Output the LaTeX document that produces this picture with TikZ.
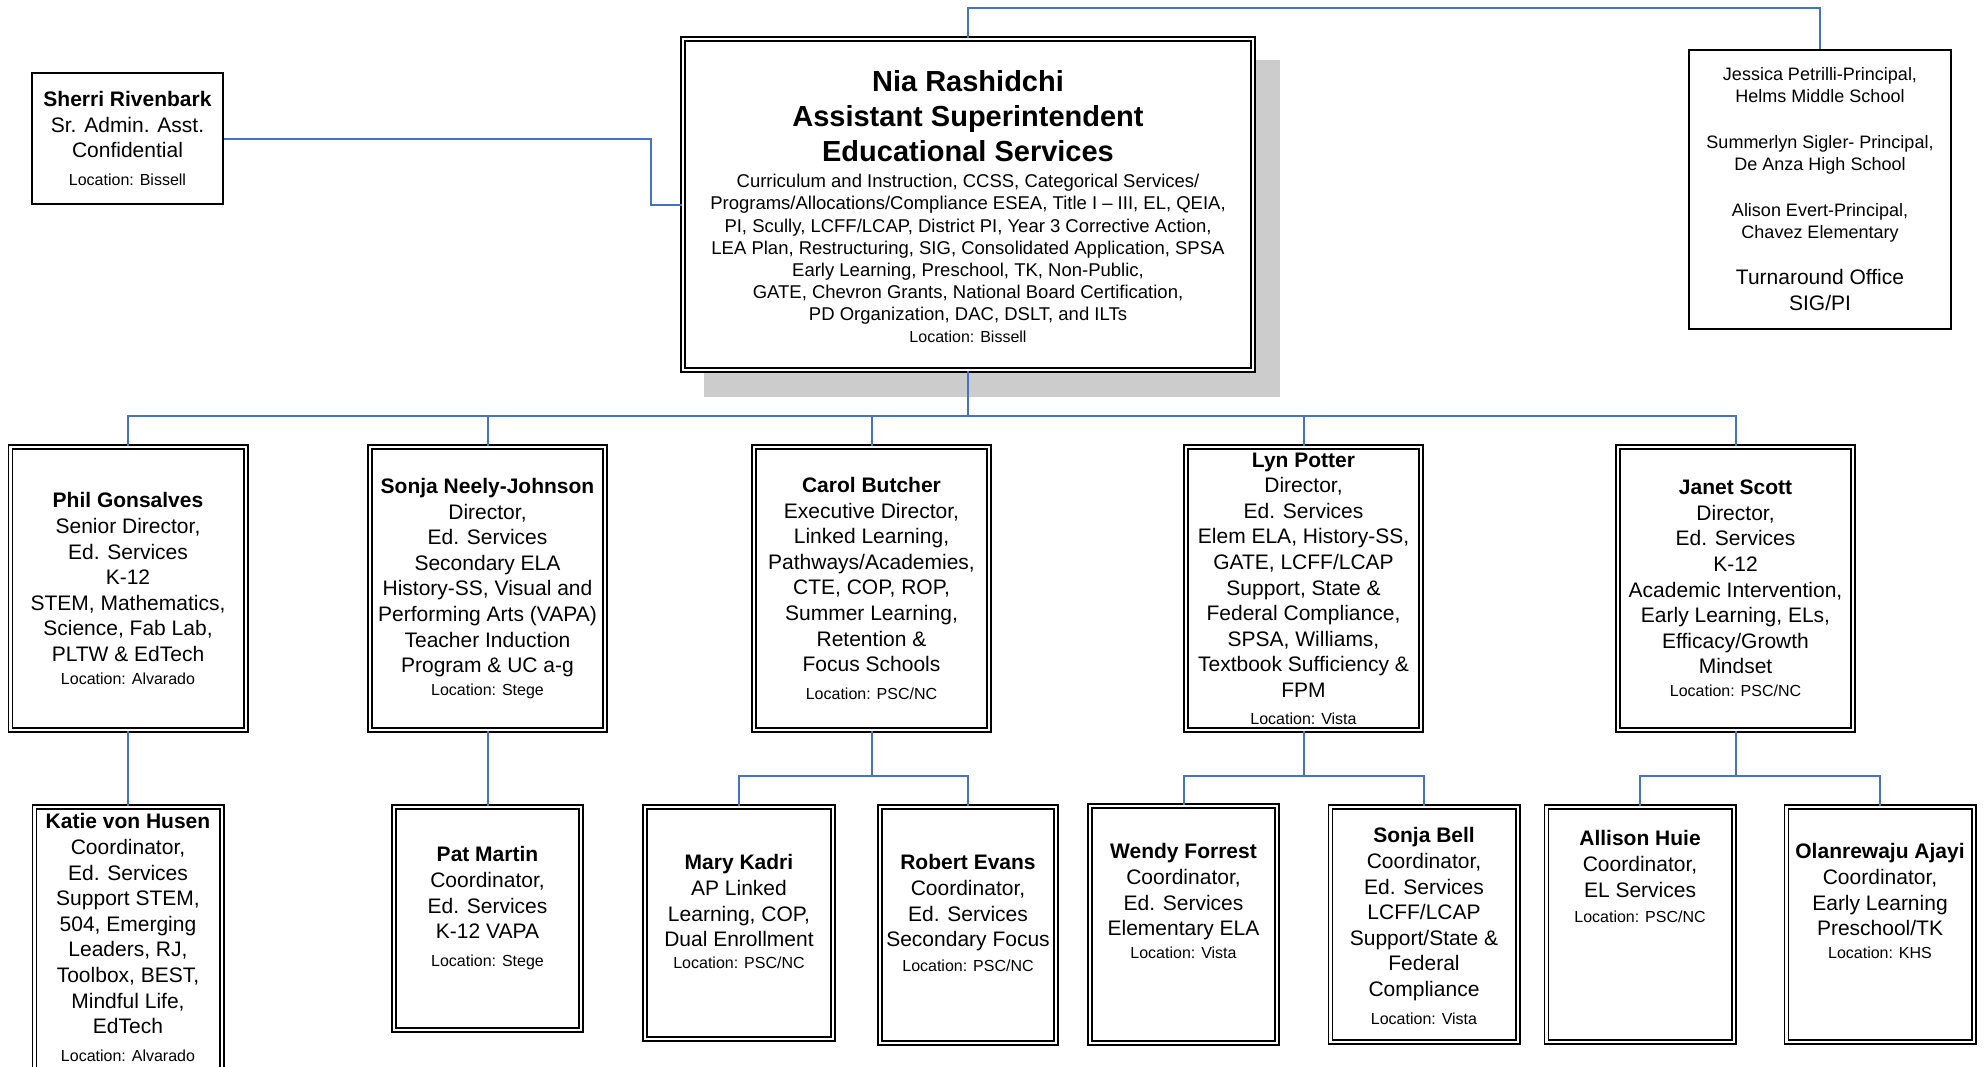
\documentclass[tikz,border=0pt]{standalone}
\usepackage{fontspec}
\setmainfont{Liberation Sans}
\usetikzlibrary{shadows}
\definecolor{linkblue}{RGB}{68,114,196}
\newcommand{\site}[1]{{\fontsize{16}{19}\selectfont Location: #1}}

\begin{document}
\begin{tikzpicture}
[x=1pt, y=-1pt, font=\fontsize{21}{25.6}\selectfont,
conn/.style={draw=linkblue, line width=2pt},
person/.style={draw, double, line width=1.8pt, double distance=2.2pt, fill=white, align=center, inner sep=0pt},
staff/.style={person, minimum width=187.2pt, minimum height=235.2pt},
lone/.style={draw, line width=2.2pt, fill=white, align=center, inner sep=0pt},
txt/.style={align=center, inner sep=0pt, anchor=north}]

\useasboundingbox (0,0) rectangle (1985,1066);

% top
\node[person, minimum width=570.2pt, minimum height=331.2pt,
    drop shadow={shadow xshift=23.5pt, shadow yshift=-24pt, fill=black!20, draw=black!20,
    line width=5.8pt, opacity=1}] (nia) at (968,204.5) {};
\node[txt, font=\fontsize{29}{34.8}\selectfont\bfseries] (nia-title) at (968,70.6)
    {Nia Rashidchi\\Assistant Superintendent\\Educational Services};
\node[txt, font=\fontsize{18.5}{22.2}\selectfont] (nia-txt) at (968,174)
    {Curriculum and Instruction, CCSS, Categorical Services/\\
     Programs/Allocations/Compliance ESEA, Title I – III, EL, QEIA,\\
     PI, Scully, LCFF/LCAP, District PI, Year 3 Corrective Action,\\
     LEA Plan, Restructuring, SIG, Consolidated Application, SPSA\\
     Early Learning, Preschool, TK, Non-Public,\\
     GATE, Chevron Grants, National Board Certification,\\
     PD Organization, DAC, DSLT, and ILTs\\[-1pt]
     \site{Bissell}};

\node[lone, minimum width=190.8pt, minimum height=130.8pt] (sherri) at (127.5,138.5)
    {\textbf{Sherri Rivenbark}\\Sr. Admin. Asst.\\Confidential\\[1.8pt]\site{Bissell}};

\node[lone, line width=2pt, minimum width=262pt, minimum height=279pt,
    font=\fontsize{18}{21.5}\selectfont] (turnaround) at (1820,189.3)
    {Jessica Petrilli-Principal,\\Helms Middle School\\[25pt]
     Summerlyn Sigler- Principal,\\De Anza High School\\[25pt]
     Alison Evert-Principal,\\Chavez Elementary\\[25pt]
     {\fontsize{21}{25}\selectfont Turnaround Office}\\[4pt]
     {\fontsize{21}{25}\selectfont SIG/PI}};

% directors
\node[person, minimum width=235.2pt, minimum height=283.2pt] (phil) at (128,588.5)
    {\textbf{Phil Gonsalves}\\Senior Director,\\Ed. Services\\K-12\\STEM, Mathematics,\\
     Science, Fab Lab,\\PLTW \& EdTech\\[-2.8pt]\site{Alvarado}};
\node[person, minimum width=235.2pt, minimum height=283.2pt] (sonjanj) at (487.5,588.5)
    {\textbf{Sonja Neely-Johnson}\\Director,\\Ed. Services\\Secondary ELA\\History-SS, Visual and\\
     Performing Arts (VAPA)\\Teacher Induction\\Program \& UC a-g\\[-2.8pt]\site{Stege}};
\node[person, minimum width=235.2pt, minimum height=283.2pt] (carol) at (871.5,588.5)
    {\textbf{Carol Butcher}\\Executive Director,\\Linked Learning,\\Pathways/Academies,\\CTE, COP, ROP,\\
     Summer Learning,\\Retention \&\\Focus Schools\\[2.2pt]\site{PSC/NC}};
\node[person, minimum width=235.2pt, minimum height=283.2pt] (lyn) at (1303.5,588.5)
    {\textbf{Lyn Potter}\\Director,\\Ed. Services\\Elem ELA, History-SS,\\GATE, LCFF/LCAP\\Support, State \&\\
     Federal Compliance,\\SPSA, Williams,\\Textbook Sufficiency \&\\FPM\\[1pt]\site{Vista}};
\node[person, minimum width=235.2pt, minimum height=283.2pt] (janet) at (1735.5,588.5)
    {\textbf{Janet Scott}\\Director,\\Ed. Services\\K-12\\Academic Intervention,\\Early Learning, ELs,\\
     Efficacy/Growth\\Mindset\\[-2.8pt]\site{PSC/NC}};

% coordinators
\node[staff, minimum height=270.2pt] (katie) at (128,942) {};
\node[txt] (katie-txt) at (128,813.5)
    {\textbf{Katie von Husen}\\Coordinator,\\Ed. Services\\Support STEM,\\504, Emerging\\Leaders, RJ,\\
     Toolbox, BEST,\\Mindful Life,\\EdTech\\[2.2pt]\site{Alvarado}};
\node[staff, minimum height=223.2pt] (pat) at (487.5,918.5) {};
\node[txt] (pat-txt) at (487.5,846.5)
    {\textbf{Pat Martin}\\Coordinator,\\Ed. Services\\K-12 VAPA\\[1.7pt]\site{Stege}};
\node[staff, minimum width=188.2pt, minimum height=232.2pt] (mary) at (739,923) {};
\node[txt] (mary-txt) at (739,854.5)
    {\textbf{Mary Kadri}\\AP Linked\\Learning, COP,\\Dual Enrollment\\[-4.1pt]\site{PSC/NC}};
\node[staff, minimum width=176.2pt, minimum height=236.2pt] (robert) at (968,925) {};
\node[txt] (robert-txt) at (968,854.5)
    {\textbf{Robert Evans}\\Coordinator,\\Ed. Services\\Secondary Focus\\[-0.6pt]\site{PSC/NC}};
\node[staff, minimum height=237.2pt] (wendy) at (1183.5,924.5) {};
\node[txt] (wendy-txt) at (1183.5,843.5)
    {\textbf{Wendy Forrest}\\Coordinator,\\Ed. Services\\Elementary ELA\\[-2.8pt]\site{Vista}};
\node[staff] (sbell) at (1424,924.5) {};
\node[txt] (sbell-txt) at (1424,827.5)
    {\textbf{Sonja Bell}\\Coordinator,\\Ed. Services\\LCFF/LCAP\\Support/State \&\\Federal\\
     Compliance\\[2.2pt]\site{Vista}};
\node[staff] (allison) at (1640,924.5) {};
\node[txt] (allison-txt) at (1640,830.5)
    {\textbf{Allison Huie}\\Coordinator,\\EL Services\\\site{PSC/NC}};
\node[staff] (olan) at (1880,924.5) {};
\node[txt] (olan-txt) at (1880,843.5)
    {\textbf{Olanrewaju Ajayi}\\Coordinator,\\Early Learning\\Preschool/TK\\[-2.8pt]\site{KHS}};

% lines
\draw[conn] (sherri.east) -| ([xshift=-31pt]nia.west) -- (nia.west);
\draw[conn] (nia.north) -- ++(0,-30) -| (turnaround.north);
\draw[conn] (nia.south) -- ++(0,45) coordinate (hub);
\foreach \n in {phil, sonjanj, carol, lyn, janet}
    \draw[conn] (hub) -| (\n.north);
\draw[conn] (phil.south) -- (katie.north);
\draw[conn] (sonjanj.south) -- (pat.north);
\foreach \boss/\one/\two in {carol/mary/robert, lyn/wendy/sbell, janet/allison/olan} {
    \draw[conn] (\boss.south) -- ++(0,45) coordinate (\boss-fork);
    \draw[conn] (\one.north) |- (\boss-fork) -| (\two.north);
}

\end{tikzpicture}
\end{document}
